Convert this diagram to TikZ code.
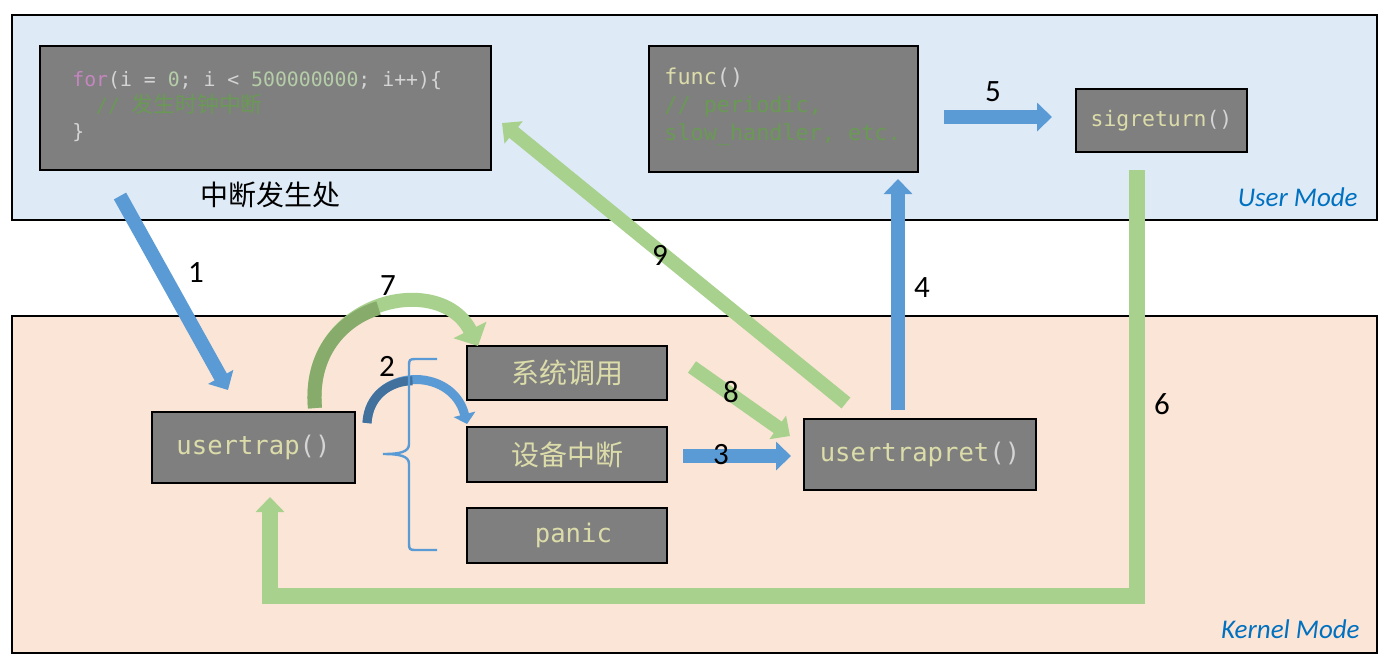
\documentclass[tikz,border=0pt]{standalone}
\usepackage{fontspec}
\setmainfont{Carlito}
\newfontfamily\cjkfont{Noto Sans CJK SC}
\newfontfamily\monofont{DejaVu Sans Mono}
\usetikzlibrary{arrows.meta}

\definecolor{userbg}{HTML}{DEEBF7}
\definecolor{kernelbg}{HTML}{FBE5D6}
\definecolor{boxgray}{HTML}{7F7F7F}
\definecolor{arrowblue}{HTML}{5B9BD5}
\definecolor{arrowbluedark}{HTML}{41719C}
\definecolor{arrowgreen}{HTML}{A9D18E}
\definecolor{arrowgreendark}{HTML}{86AB6B}
\definecolor{modeblue}{HTML}{0070C0}
\definecolor{codetxt}{HTML}{D4D4D4}
\definecolor{codefn}{HTML}{DCDCAA}
\definecolor{codekw}{HTML}{C586C0}
\definecolor{codenum}{HTML}{B5CEA8}
\definecolor{codecmt}{HTML}{6A9955}

\tikzset{
    region/.style={rectangle, draw=black, line width=0.6pt, inner sep=0pt},
    codebox/.style={rectangle, draw=black, line width=0.8pt, fill=boxgray, inner sep=0pt},
    codetext/.style={inner sep=0pt, align=left, text=codetxt},
    fntext/.style={text=codefn, font=\monofont\fontsize{12.8}{15}\selectfont},
    cntext/.style={text=codefn, font=\cjkfont\fontsize{14}{16}\selectfont},
    steplabel/.style={inner sep=0pt, font=\fontsize{15.5}{18}\selectfont},
    modelabel/.style={inner sep=0pt, text=modeblue, font=\itshape\fontsize{13.5}{16}\selectfont},
    blockarrow/.style={line width=7pt, -{Triangle[length=7.5pt,width=14pt]}},
    bracestyle/.style={arrowblue, line width=1.2pt}
}

\begin{document}
\begin{tikzpicture}[x=0.5pt, y=-0.5pt]
  \fill[white] (0,0) rectangle (1391,666);
  \useasboundingbox (0,0) rectangle (1391,666);

  \node (user) [region, fill=userbg, minimum width=682.5pt, minimum height=102.5pt] at (694.5,117.5) {};
  \node (kernel) [region, fill=kernelbg, minimum width=682.5pt, minimum height=168.5pt] at (694.5,484.5) {};
  \node (usermode) [modelabel, anchor=east] at (1358,197) {User Mode};
  \node (kernelmode) [modelabel, anchor=east] at (1360,629) {Kernel Mode};

  \node (loop) [codebox, minimum width=225.5pt, minimum height=62pt] at (265.5,108) {};
  \node (loopcode) [codetext, anchor=west, font=\monofont\fontsize{9.9}{13}\selectfont] at (72,107)
    {{\color{codekw}for}(i = {\color{codenum}0}; i < {\color{codenum}500000000}; i++)\{\\
     \hspace*{1.2em}{\color{codecmt}// {\cjkfont\fontsize{10.9}{13}\selectfont 发生时钟中断}}\\
     \}};
  \node (func) [codebox, minimum width=134.5pt, minimum height=63pt] at (783.5,109) {};
  \node (funccode) [codetext, anchor=west, font=\monofont\fontsize{10.9}{14}\selectfont] at (664,107)
    {{\color{codefn}func}()\\ {\color{codecmt}// periodic,}\\ {\color{codecmt}slow\_handler, etc.}};
  \node (sigret) [codebox, fntext, font=\monofont\fontsize{10.7}{13}\selectfont, minimum width=85.5pt, minimum height=31.5pt] at (1161.5,120.5) {sigreturn{\color{codetxt}()}};
  \node (origin) [cntext, text=black] at (270,195) {中断发生处};

  \node (usertrap) [codebox, fntext, minimum width=101.5pt, minimum height=35.5pt] at (253.5,447.5) {usertrap{\color{codetxt}()}};
  \node (syscall) [codebox, cntext, minimum width=100pt, minimum height=27pt] at (567,373) {系统调用};
  \node (devintr) [codebox, cntext, minimum width=100pt, minimum height=27.5pt] at (567,454.5) {设备中断};
  \node (panic) [codebox, fntext, minimum width=100pt, minimum height=27.5pt] at (567,535.5) {\hspace*{0.5em}panic};
  \node (usertrapret) [codebox, fntext, minimum width=116pt, minimum height=35.5pt] at (920,454.5) {usertrapret{\color{codetxt}()}};

  \coordinate (a1s) at (120,196);  \coordinate (a1e) at (228,390);
  \coordinate (a3s) at (683,456);  \coordinate (a3e) at (791,456);
  \coordinate (a4s) at (898,410);  \coordinate (a4e) at (898,179);
  \coordinate (a5s) at (944,117);  \coordinate (a5e) at (1052,117);
  \coordinate (a6s) at (1137,170); \coordinate (a6b) at (1137,596);
  \coordinate (a6c) at (270,596);  \coordinate (a6e) at (270,497);
  \coordinate (a8s) at (692,367);  \coordinate (a8e) at (790,436);
  \coordinate (a9s) at (846,403);  \coordinate (a9e) at (502,123);
  \coordinate (a7s) at (315,408);  \coordinate (a7e) at (478,346);
  \coordinate (a2s) at (367,423);  \coordinate (a2e) at (467,424);

  \draw (a1s) edge [blockarrow, arrowblue] (a1e);
  \draw (a3s) edge [blockarrow, arrowblue] (a3e);
  \draw (a4s) edge [blockarrow, arrowblue] (a4e);
  \draw (a5s) edge [blockarrow, arrowblue] (a5e);
  \draw [blockarrow, arrowgreen, line width=8pt] (a6s) -- (a6b) -- (a6c) -- (a6e);
  \draw (a8s) edge [blockarrow, arrowgreen] (a8e);
  \draw (a9s) edge [blockarrow, arrowgreen] (a9e);

  \draw [arrowgreen, line width=7pt, -{Triangle[length=9pt,width=18pt]}] (a7s) .. controls (305,300) and (440,270) .. (a7e);
  \draw [arrowgreendark, line width=7pt] (a7s) .. controls (310,354) and (341.25,319.5) .. (378.5,308);
  \draw [arrowblue, line width=4.5pt, -{Triangle[length=5pt,width=11pt]}] (a2s) .. controls (370,368) and (452,365) .. (a2e);
  \draw [arrowbluedark, line width=4.5pt] (a2s) .. controls (368.5,395.5) and (389.75,381) .. (412.5,380.75);

  \draw [bracestyle] (437,359) -- (415,359) .. controls (410,359) and (409,360) .. (409,365) -- (409,444)
    .. controls (409,452) and (400,454) .. (383,454) .. controls (400,454) and (409,456) .. (409,464)
    -- (409,544) .. controls (409,549) and (410,550) .. (415,550) -- (437,550);

  \node (n1) [steplabel] at (196,273) {1};
  \node (n2) [steplabel] at (387,366) {2};
  \node (n3) [steplabel] at (721,455) {3};
  \node (n4) [steplabel] at (922,288) {4};
  \node (n5) [steplabel] at (993,92) {5};
  \node (n6) [steplabel] at (1162,404) {6};
  \node (n7) [steplabel] at (388,286) {7};
  \node (n8) [steplabel] at (731,392) {8};
  \node (n9) [steplabel] at (660,255) {9};
\end{tikzpicture}
\end{document}
